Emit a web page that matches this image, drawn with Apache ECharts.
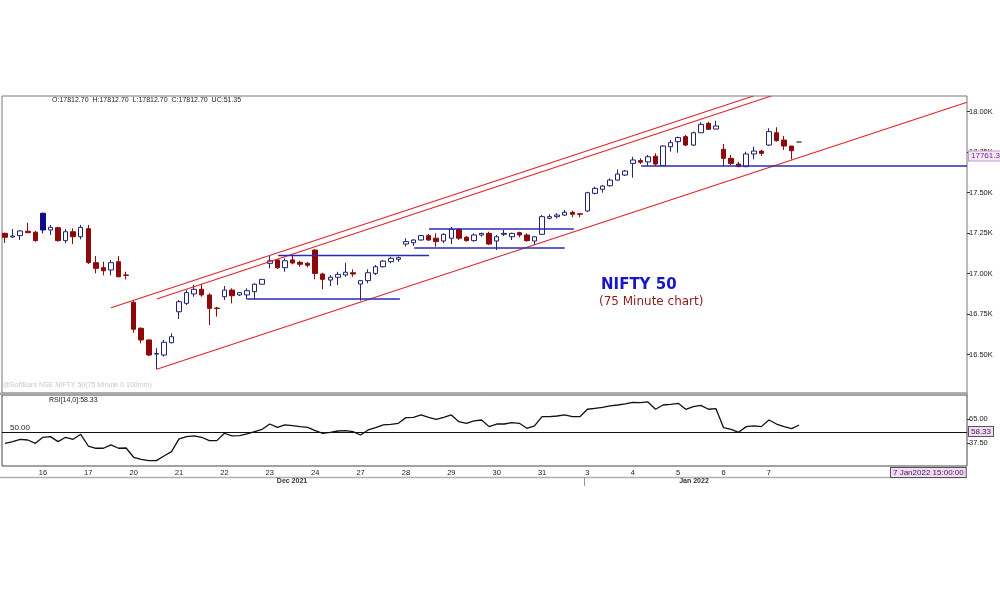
<!DOCTYPE html>
<html><head><meta charset="utf-8">
<script src="https://cdn.jsdelivr.net/npm/echarts@6/dist/echarts.min.js"></script>
<style>html,body{margin:0;padding:0;background:#fff}#c{width:1000px;height:600px}</style>
</head><body><div id="c"></div>
<script>
// ---- data ----
const dayStartIndex = [5,11,17,23,29,35,41,47,53,59,65,71,77,83,89,95,101];
const dayLabels = ['16','17','20','21','22','23','24','27','28','29','30','31','3','4','5','6','7'];
const monthLabels = ['Dec 2021','Jan 2022'];
const priceTicks = [16500,16750,17000,17250,17500,17750,18000];
const rsiTicks = [37.5,65];
// [open, close, low, high] per 75-minute bar
const ohlc = [
[17249,17225,17190,17253],[17227,17233,17220,17276],[17235,17264,17208,17270],[17262,17253,17251,17315],[17256,17204,17198,17264],
[17270,17373,17249,17377],[17270,17286,17239,17301],[17284,17204,17198,17290],[17204,17259,17188,17274],[17259,17228,17183,17280],[17228,17286,17212,17301],
[17278,17068,17060,17301],[17068,17033,17002,17109],[17037,17018,16990,17074],[17023,17068,16990,17085],[17074,16981,16978,17109],[16992,16990,16965,17012],
[16823,16657,16636,16838],[16663,16591,16570,16669],[16591,16498,16492,16595],[16504,16507,16410,16540],[16498,16577,16488,16591],[16574,16611,16570,16632],
[16765,16827,16720,16838],[16817,16883,16807,16899],[16875,16904,16858,16930],[16904,16869,16858,16936],[16869,16786,16683,16879],[16788,16785,16735,16796],
[16858,16899,16838,16924],[16899,16864,16817,16910],[16869,16883,16862,16887],[16869,16895,16842,16910],[16889,16935,16842,16941],[16935,16965,16933,16967],
[17064,17080,17033,17109],[17085,17037,17029,17089],[17037,17080,17012,17095],[17085,17066,17058,17115],[17070,17058,17043,17080],[17064,17052,17039,17072],
[17146,17002,16965,17151],[16998,16965,16904,17006],[16961,16978,16924,16992],[16978,16996,16930,17012],[16992,17009,16981,17068],[17006,16998,16981,17027],
[16936,16957,16833,16961],[16957,17006,16941,17027],[17002,17043,16992,17054],[17043,17078,17038,17085],[17074,17095,17064,17105],[17089,17099,17074,17105],
[17183,17198,17167,17219],[17191,17208,17171,17212],[17208,17235,17204,17239],[17235,17208,17202,17245],[17219,17198,17167,17249],[17202,17243,17188,17249],
[17219,17274,17183,17290],[17274,17219,17208,17280],[17225,17204,17198,17233],[17204,17239,17198,17249],[17239,17249,17228,17253],[17249,17183,17177,17259],
[17202,17228,17146,17239],[17243,17249,17233,17270],[17228,17249,17208,17253],[17253,17239,17225,17259],[17239,17204,17198,17249],[17202,17228,17177,17233],
[17243,17352,17239,17362],[17342,17352,17336,17367],[17352,17362,17342,17373],[17362,17379,17356,17393],[17379,17367,17348,17389],[17370,17367,17348,17372],
[17387,17500,17381,17506],[17496,17527,17490,17537],[17521,17541,17500,17548],[17543,17578,17537,17589],[17578,17615,17574,17644],[17609,17634,17603,17640],
[17681,17702,17593,17722],[17698,17688,17677,17712],[17690,17722,17665,17733],[17725,17677,17665,17743],[17668,17788,17665,17794],[17784,17809,17753,17825],
[17815,17840,17747,17846],[17846,17794,17788,17856],[17794,17870,17788,17877],[17870,17922,17869,17935],[17928,17891,17887,17938],[17893,17912,17891,17944],
[17768,17712,17665,17801],[17712,17681,17671,17733],[17677,17661,17657,17690],[17661,17739,17657,17753],[17739,17757,17706,17784],[17757,17743,17727,17764],
[17794,17877,17788,17898],[17870,17821,17815,17904],[17825,17788,17764,17850],[17788,17759,17706,17788],[17812.7,17812.7,17812.7,17812.7]
];
const highlightBar = 5; // blue filled bar
const rsi = [
37.4,39.3,42.0,41.2,37.4,44.3,45.0,39.3,44.3,42.0,
47.7,34.3,31.7,31.7,35.5,31.7,32.0,21.4,19.1,17.5,
17.5,22.9,27.8,42.4,45.0,45.8,44.3,40.5,40.5,48.9,
45.8,46.2,48.1,50.8,53.4,59.5,55.7,58.4,57.6,56.5,
55.7,51.9,48.9,50.0,51.5,51.9,50.8,46.9,52.7,55.3,
58.4,59.2,60.3,66.8,67.2,69.9,67.2,64.9,67.2,69.9,
62.2,60.3,63.0,64.1,56.5,59.5,59.5,61.1,60.3,54.6,
57.3,67.9,67.9,68.7,69.9,67.9,67.9,76.4,77.5,78.6,
80.2,81.3,82.5,84.4,84.0,84.8,76.4,81.3,82.1,83.2,
76.4,79.4,80.9,76.4,77.1,55.3,53.4,50.0,56.5,57.3,
56.5,64.1,59.5,56.5,54.2,58.33
];
// trend lines: [barIndex, price] endpoints
const redLines = [
  [[14.0,16790],[98.94,18097]],
  [[20.05,16844],[101.3,18097]],
  [[20.05,16410],[127.19,18058]]
];
const blueLines = [
  [[36.1,17112],[56.05,17112]],
  [[32.0,16844],[52.2,16844]],
  [[56.05,17276],[75.2,17276]],
  [[54.1,17159],[74.0,17159]],
  [[84.1,17665],[127.19,17665]]
];
const lastBar = {o:'17812.70',h:'17812.70',l:'17812.70',c:'17812.70',uc:'51.35'};
const cursorPrice = '17761.3';
const rsiLast = '58.33';
const timeStamp = '7 Jan2022 15:00:00';

// ---- chart ----
const chart = echarts.init(document.getElementById('c'), null, {renderer:'canvas'});
const X_MIN = -0.41, X_MAX = 127.19;
const font = 'Liberation Sans';

const candleData = ohlc.map((d,i)=>{
  const item = {value:[i].concat(d)};
  if (i === highlightBar) item.itemStyle = {color:'#0c0c8c', borderColor:'#0c0c8c'};
  if (d[0] === d[1] && d[2] === d[3]) item.itemStyle = {borderColor:'#555555', borderColorDoji:'#555555'};
  return item;
});

const series = [{
  type:'candlestick', xAxisIndex:0, yAxisIndex:0, barWidth:5,
  data:candleData, encode:{x:0, y:[1,2,3,4]},
  itemStyle:{color:'#ffffff', color0:'#8e0a0a', borderColor:'#23236e', borderColor0:'#8e0a0a', borderColorDoji:'#23236e', borderWidth:1},
  silent:true, animation:false
}];
redLines.forEach(l=>series.push({type:'line', xAxisIndex:0, yAxisIndex:0, data:l, symbol:'none', silent:true,
  lineStyle:{color:'#e0262c', width:1.2}, clip:true, animation:false, z:3}));
blueLines.forEach(l=>series.push({type:'line', xAxisIndex:0, yAxisIndex:0, data:l, symbol:'none', silent:true,
  lineStyle:{color:'#2a2ab4', width:1.4}, clip:true, animation:false, z:3}));
series.push({type:'line', xAxisIndex:1, yAxisIndex:1, data:rsi.map((v,i)=>[i,v]), symbol:'none', silent:true,
  lineStyle:{color:'#111111', width:1.3}, animation:false,
  markLine:{silent:true, symbol:'none', animation:false,
    lineStyle:{color:'#111111', width:1.2, type:'solid'},
    label:{show:true, position:'insideStartTop', formatter:'50.00', fontFamily:font, fontSize:8, color:'#222', distance:[8,1]},
    data:[{yAxis:50}]}
});

const option = {
  backgroundColor:'#ffffff',
  animation:false,
  grid:[
    {left:2, top:96, width:965, height:297, show:true, borderColor:'#777777', borderWidth:1},
    {left:2, top:395, width:965, height:71, show:true, borderColor:'#444444', borderWidth:1}
  ],
  xAxis:[
    {type:'value', gridIndex:0, min:X_MIN, max:X_MAX, axisLabel:{show:false}, axisTick:{show:false}, axisLine:{show:false, onZero:false}, splitLine:{show:false}},
    {type:'value', gridIndex:1, min:X_MIN, max:X_MAX, axisLine:{show:false, onZero:false}, axisTick:{show:false}, splitLine:{show:false},
      axisLabel:{customValues:dayStartIndex, formatter:v=>dayLabels[dayStartIndex.indexOf(v)], fontFamily:font, fontSize:7.5, color:'#222', margin:3}}
  ],
  yAxis:[
    {type:'value', gridIndex:0, position:'right', min:16263.6, max:18096.9, splitLine:{show:false}, axisLine:{show:false, onZero:false},
      axisTick:{show:true, customValues:priceTicks, length:3, lineStyle:{color:'#333'}},
      axisLabel:{customValues:priceTicks, formatter:v=>(v/1000).toFixed(2)+'K', fontFamily:font, fontSize:7.5, color:'#222', margin:2}},
    {type:'value', gridIndex:1, position:'right', min:11.39, max:92.74, splitLine:{show:false}, axisLine:{show:false, onZero:false},
      axisTick:{show:true, customValues:rsiTicks, length:3, lineStyle:{color:'#333'}},
      axisLabel:{customValues:rsiTicks, formatter:v=>v.toFixed(2), fontFamily:font, fontSize:7.5, color:'#222', margin:2}}
  ],
  series:series,
  graphic:[
    {type:'rect', shape:{x:0, y:392.5, width:968, height:2.5}, style:{fill:'#a8a8a8'}, silent:true, z:10},
    {type:'line', shape:{x1:0, y1:477.5, x2:967, y2:477.5}, style:{stroke:'#b0b0b0', lineWidth:1.5}, silent:true},
    {type:'line', shape:{x1:584.5, y1:477, x2:584.5, y2:486}, style:{stroke:'#999999', lineWidth:1}, silent:true},
    {type:'text', x:52, y:100, style:{text:'O:'+lastBar.o+'  H:'+lastBar.h+'  L:'+lastBar.l+'  C:'+lastBar.c+'  UC:'+lastBar.uc, font:'7px '+font, fill:'#222', textVerticalAlign:'middle'}, silent:true},
    {type:'text', x:3, y:385, style:{text:'@SoftBars NSE NIFTY 50(75 Minute 0 100mm)', font:'7px '+font, fill:'#c8c8d0', textVerticalAlign:'middle'}, silent:true},
    {type:'text', x:601, y:285, style:{text:'NIFTY 50', font:'bold 15px "DejaVu Sans"', fill:'#1616c4', textVerticalAlign:'middle'}, silent:true},
    {type:'text', x:599, y:301.5, style:{text:'(75 Minute chart)', font:'12px "DejaVu Sans"', fill:'#8e1c1c', textVerticalAlign:'middle'}, silent:true},
    {type:'text', x:49, y:400, style:{text:'RSI[14,0]:'+rsiLast, font:'7px '+font, fill:'#222', textVerticalAlign:'middle'}, silent:true},
    {type:'text', x:969, y:156, z:20, style:{text:cursorPrice, font:'8px '+font, fill:'#6a2a8a', backgroundColor:'#f7e6f7', borderColor:'#b8a0c0', borderWidth:1, padding:[1,2,0,2], textVerticalAlign:'middle'}, silent:true},
    {type:'text', x:969, y:431.5, z:20, style:{text:rsiLast, font:'8px '+font, fill:'#3a2a4a', backgroundColor:'#f3dcf3', borderColor:'#555', borderWidth:1, padding:[1,2,0,2], textVerticalAlign:'middle'}, silent:true},
    {type:'text', x:891, y:472.5, z:20, style:{text:timeStamp, font:'8px '+font, fill:'#3a1a5a', backgroundColor:'#f3dcf3', borderColor:'#555', borderWidth:1, padding:[1,2,0,2], textVerticalAlign:'middle'}, silent:true},
    {type:'text', x:292, y:481, style:{text:monthLabels[0], font:'bold 7px '+font, fill:'#333', textAlign:'center', textVerticalAlign:'middle'}, silent:true},
    {type:'text', x:694, y:481, style:{text:monthLabels[1], font:'bold 7px '+font, fill:'#333', textAlign:'center', textVerticalAlign:'middle'}, silent:true}
  ]
};
chart.setOption(option);
</script>
</body></html>
